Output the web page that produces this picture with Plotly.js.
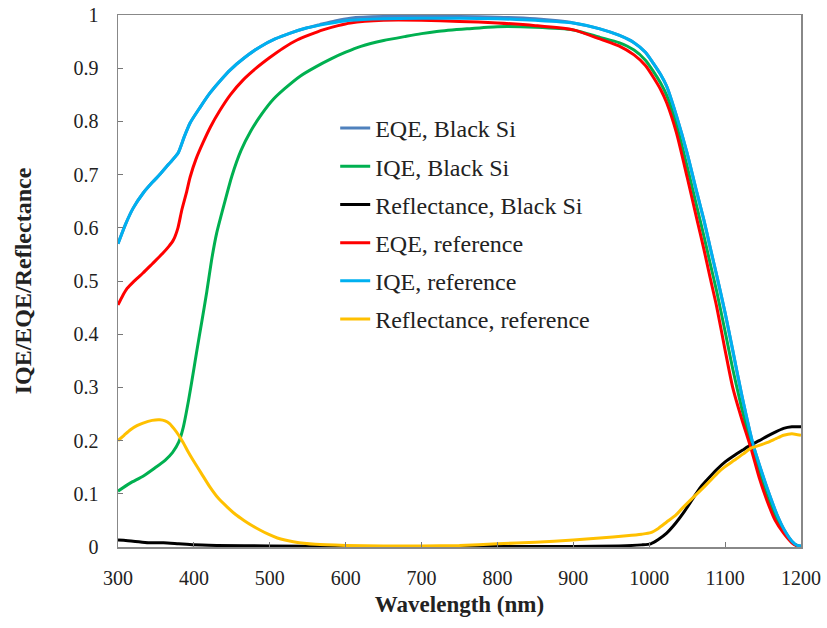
<!DOCTYPE html>
<html>
<head>
<meta charset="utf-8">
<script src="https://cdn.plot.ly/plotly-3.0.1.min.js"></script>
<style>html,body{margin:0;padding:0;background:#fff;}#chart{width:827px;height:628px;}</style>
</head>
<body>
<div id="chart"></div>
<script>
// Series names
const seriesNames = ["EQE, Black Si", "IQE, Black Si", "Reflectance, Black Si", "EQE, reference", "IQE, reference", "Reflectance, reference"];

// IQE, reference (cyan)
const iqeRefX = [300,310,320,333,345,355,367,379,387,395,408,421,435,448,467,487,507,527,547,566,586,606,650,700,750,800,850,900,935,960,980,995,1005,1015,1023,1036,1050,1063,1072,1080,1089,1100,1110,1122,1137,1148,1158,1168,1178,1188,1195,1200];
const iqeRefY = [0.57,0.607,0.637,0.665,0.685,0.70,0.72,0.74,0.77,0.797,0.826,0.853,0.877,0.897,0.92,0.94,0.955,0.966,0.975,0.981,0.986,0.99,0.993,0.994,0.994,0.993,0.99,0.985,0.974,0.962,0.948,0.93,0.91,0.888,0.866,0.81,0.74,0.665,0.615,0.565,0.51,0.44,0.37,0.285,0.192,0.142,0.1,0.062,0.032,0.011,0.003,0.002];

// EQE, Black Si (blue) – mostly hidden under IQE reference
const eqeBlkX = [300,310,320,333,345,355,367,379,387,395,408,421,435,448,467,487,507,527,547,566,586,606,650,700,750,800,850,880,900,935,960,980,995,1005,1015,1023,1036,1050,1063,1072,1080,1089,1100,1110,1122,1137,1148,1158,1168,1178,1188,1195,1200];
const eqeBlkY = [0.57,0.607,0.637,0.665,0.685,0.70,0.72,0.74,0.77,0.797,0.826,0.853,0.877,0.897,0.92,0.94,0.955,0.966,0.975,0.982,0.989,0.994,0.997,0.997,0.997,0.996,0.993,0.989,0.985,0.974,0.962,0.948,0.93,0.91,0.888,0.866,0.81,0.74,0.665,0.615,0.565,0.51,0.44,0.37,0.285,0.192,0.142,0.1,0.062,0.032,0.011,0.003,0.002];

// EQE, reference (red)
const eqeRefX = [300,306,312,320,333,345,359,367,373,379,384,390,395,403,412,422,434,448,465,482,500,518,536,553,570,590,606,650,700,750,800,850,900,935,960,980,995,1005,1015,1023,1036,1050,1063,1072,1080,1089,1100,1110,1122,1134,1145,1155,1166,1177,1188,1195,1200];
const eqeRefY = [0.455,0.472,0.486,0.498,0.515,0.532,0.552,0.565,0.577,0.60,0.633,0.665,0.695,0.73,0.76,0.79,0.82,0.85,0.878,0.90,0.92,0.938,0.953,0.963,0.972,0.98,0.985,0.99,0.99,0.988,0.985,0.98,0.972,0.955,0.942,0.925,0.905,0.884,0.86,0.835,0.778,0.695,0.615,0.56,0.508,0.451,0.37,0.30,0.24,0.186,0.13,0.088,0.05,0.026,0.008,0.002,0.0];

// IQE, Black Si (green)
const iqeBlkX = [300,316,333,348,362,372,380,386,393,400,404,410,417,424,430,440,450,462,475,490,505,520,540,560,580,600,620,650,680,700,720,760,800,850,900,935,960,980,995,1005,1015,1023,1036,1050,1063,1072,1080,1089,1100,1110,1122,1135,1146,1156,1167,1178,1188,1195,1200];
const iqeBlkY = [0.105,0.12,0.133,0.148,0.163,0.178,0.197,0.225,0.276,0.335,0.37,0.42,0.48,0.545,0.59,0.645,0.697,0.745,0.782,0.815,0.842,0.862,0.885,0.902,0.917,0.93,0.941,0.952,0.96,0.965,0.969,0.974,0.978,0.977,0.972,0.958,0.948,0.934,0.915,0.895,0.872,0.849,0.793,0.715,0.638,0.585,0.535,0.48,0.405,0.335,0.26,0.188,0.135,0.093,0.054,0.028,0.009,0.002,0.0];

// Reflectance, Black Si (black)
const refBlkX = [300,320,340,360,380,400,430,500,600,700,800,900,960,990,1002,1012,1023,1035,1045,1057,1068,1080,1090,1100,1112,1124,1134,1145,1155,1166,1177,1188,1200];
const refBlkY = [0.013,0.011,0.008,0.008,0.006,0.004,0.003,0.002,0.001,0.001,0.001,0.001,0.002,0.004,0.006,0.014,0.026,0.045,0.064,0.09,0.113,0.132,0.147,0.16,0.172,0.183,0.192,0.2,0.208,0.216,0.223,0.226,0.226];

// Reflectance, reference (yellow)
const refRefX = [300,308,316,325,333,345,355,362,368,374,380,386,392,399,410,421,432,444,455,466,477,487,498,510,520,531,545,560,600,650,700,750,800,850,900,935,970,990,1002,1012,1023,1035,1045,1057,1068,1080,1090,1100,1112,1124,1134,1145,1155,1166,1177,1188,1200];
const refRefY = [0.20,0.21,0.22,0.228,0.233,0.238,0.239,0.237,0.232,0.222,0.21,0.196,0.18,0.163,0.138,0.113,0.092,0.075,0.061,0.05,0.04,0.032,0.024,0.017,0.013,0.01,0.007,0.005,0.003,0.002,0.002,0.003,0.006,0.009,0.013,0.017,0.021,0.024,0.027,0.035,0.047,0.06,0.075,0.092,0.107,0.124,0.139,0.151,0.163,0.175,0.186,0.191,0.196,0.203,0.21,0.213,0.21];

const colors = ["#4F81BD", "#00B050", "#000000", "#FF0000", "#00B0F0", "#FFC000"];
const xs = [eqeBlkX, iqeBlkX, refBlkX, eqeRefX, iqeRefX, refRefX];
const ys = [eqeBlkY, iqeBlkY, refBlkY, eqeRefY, iqeRefY, refRefY];

const traces = seriesNames.map((n, i) => ({
  x: xs[i], y: ys[i], name: n, type: 'scatter', mode: 'lines',
  legendgroup: 'g' + i,
  line: {color: colors[i], width: 3, shape: 'spline', smoothing: 0.6}
}));

const serif = "Liberation Serif, Times New Roman, serif";
const layout = {
  width: 827, height: 628,
  margin: {l: 118, r: 26, t: 15, b: 81},
  paper_bgcolor: '#fff', plot_bgcolor: '#fff',
  font: {family: serif, size: 20, color: '#222'},
  showlegend: true,
  legend: {
    x: 0.318, y: 0.829, xanchor: 'left', yanchor: 'top',
    bgcolor: 'rgba(0,0,0,0)', font: {family: serif, size: 24, color: '#222'},
    tracegroupgap: 4, itemwidth: 30
  },
  xaxis: {
    range: [300, 1200], tick0: 300, dtick: 100, ticks: 'inside', ticklen: 5,
    tickcolor: '#777', showline: true, mirror: true, linecolor: '#888', linewidth: 1.5,
    showgrid: false, zeroline: false, ticklabelstandoff: 12,
    tickfont: {family: serif, size: 20, color: '#222'},
    title: {text: '<b>Wavelength (nm)</b>', font: {family: serif, size: 23, color: '#222'}, standoff: 8}
  },
  yaxis: {
    range: [0, 1], tick0: 0, dtick: 0.1, ticks: 'inside', ticklen: 5,
    tickcolor: '#777', showline: true, mirror: true, linecolor: '#888', linewidth: 1.5,
    showgrid: false, zeroline: false, ticklabelstandoff: 14,
    tickfont: {family: serif, size: 20, color: '#222'},
    title: {text: '<b>IQE/EQE/Reflectance</b>', font: {family: serif, size: 24, color: '#222'}, standoff: 35}
  }
};

Plotly.newPlot('chart', traces, layout, {displayModeBar: false, staticPlot: true});
</script>
</body>
</html>
